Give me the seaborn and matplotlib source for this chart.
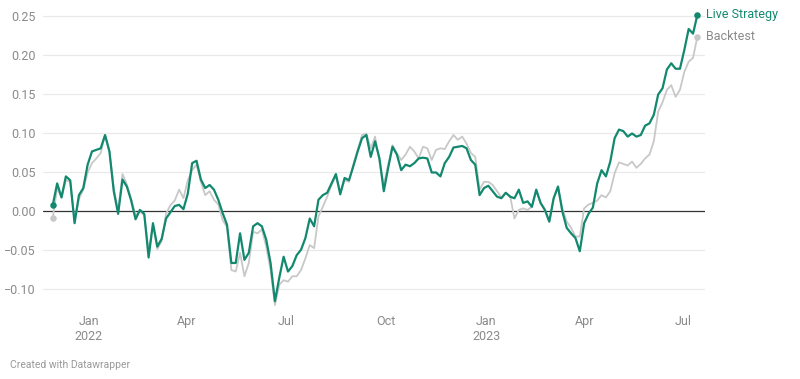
import matplotlib
matplotlib.use("Agg")
import matplotlib.pyplot as plt
import pandas as pd
import seaborn as sns

# data, sampled every 4 days from 2021-11-29
start_date = "2021-11-29"
step = "4D"
live = [0.0085, 0.036, 0.018, 0.045, 0.04, -0.015, 0.021, 0.03, 0.06, 0.077,
        0.079, 0.081, 0.098, 0.077, 0.026, -0.003, 0.041, 0.032, 0.014, -0.01,
        0.002, -0.003, -0.059, -0.015, -0.045, -0.035, -0.009, -0.001, 0.007, 0.0085,
        0.003, 0.023, 0.062, 0.065, 0.041, 0.03, 0.034, 0.028, 0.015, -0.002,
        -0.017, -0.066, -0.066, -0.028, -0.062, -0.053, -0.019, -0.015, -0.019, -0.036,
        -0.066, -0.115, -0.085, -0.058, -0.077, -0.07, -0.056, -0.049, -0.034, -0.009,
        -0.019, 0.015, 0.021, 0.024, 0.036, 0.048, 0.022, 0.043, 0.04, 0.058,
        0.077, 0.094, 0.098, 0.07, 0.09, 0.068, 0.026, 0.056, 0.083, 0.073,
        0.053, 0.06, 0.058, 0.062, 0.068, 0.069, 0.068, 0.05, 0.05, 0.045,
        0.062, 0.07, 0.082, 0.083, 0.084, 0.081, 0.066, 0.06, 0.021, 0.03,
        0.033, 0.026, 0.019, 0.017, 0.024, 0.019, 0.017, 0.028, 0.011, 0.013,
        0.006, 0.028, 0.011, 0.002, -0.013, 0.017, 0.032, 0.0, -0.021, -0.028,
        -0.034, -0.051, -0.015, -0.003, 0.005, 0.036, 0.053, 0.045, 0.064, 0.094,
        0.105, 0.103, 0.096, 0.1, 0.096, 0.098, 0.11, 0.113, 0.124, 0.15,
        0.158, 0.182, 0.19, 0.183, 0.183, 0.207, 0.234, 0.228, 0.252]
backtest = [-0.008, 0.03, 0.018, 0.04, 0.038, -0.012, 0.016, 0.028, 0.05, 0.062,
            0.068, 0.075, 0.098, 0.077, 0.03, 0.0, 0.048, 0.035, 0.016, -0.005,
            0.0, -0.005, -0.05, -0.018, -0.048, -0.038, -0.003, 0.008, 0.014, 0.028,
            0.017, 0.04, 0.053, 0.06, 0.038, 0.021, 0.026, 0.015, 0.009, -0.011,
            -0.02, -0.075, -0.077, -0.053, -0.083, -0.066, -0.026, -0.028, -0.023, -0.045,
            -0.075, -0.12, -0.094, -0.088, -0.09, -0.083, -0.083, -0.075, -0.06, -0.043,
            -0.047, -0.006, 0.006, 0.019, 0.034, 0.045, 0.025, 0.04, 0.038, 0.06,
            0.079, 0.098, 0.1, 0.081, 0.096, 0.064, 0.034, 0.06, 0.085, 0.075,
            0.066, 0.073, 0.083, 0.077, 0.068, 0.083, 0.081, 0.066, 0.079, 0.081,
            0.08, 0.09, 0.098, 0.092, 0.096, 0.087, 0.075, 0.07, 0.028, 0.038,
            0.038, 0.034, 0.026, 0.018, 0.024, 0.02, -0.009, 0.002, 0.004, 0.002,
            0.006, 0.026, 0.011, 0.001, -0.013, 0.017, 0.031, 0.004, -0.013, -0.021,
            -0.032, -0.032, 0.004, 0.009, 0.011, 0.014, 0.021, 0.018, 0.026, 0.049,
            0.063, 0.061, 0.059, 0.064, 0.056, 0.061, 0.068, 0.073, 0.09, 0.128,
            0.14, 0.156, 0.162, 0.147, 0.156, 0.179, 0.192, 0.197, 0.224]
series_names = ["Live Strategy", "Backtest"]
yticks = [-0.10, -0.05, 0.00, 0.05, 0.10, 0.15, 0.20, 0.25]
xtick_dates = ["2022-01-01", "2022-04-01", "2022-07-01", "2022-10-01",
               "2023-01-01", "2023-04-01", "2023-07-01"]
xtick_labels = ["Jan\n2022", "Apr", "Jul", "Oct", "Jan\n2023", "Apr", "Jul"]

palette = {"Live Strategy": "#12896f", "Backtest": "#c8c8c8"}
label_colors = {"Live Strategy": "#12896f", "Backtest": "#8a8a8a"}
widths = {"Live Strategy": 1.6, "Backtest": 1.3}

dates = pd.date_range(start_date, periods=len(live), freq=step)
df = pd.concat([
    pd.DataFrame({"date": dates, "value": live, "series": series_names[0]}),
    pd.DataFrame({"date": dates, "value": backtest, "series": series_names[1]}),
])

sns.set_style("white")
plt.rcParams["font.family"] = ["Roboto", "DejaVu Sans"]

fig = plt.figure(figsize=(8, 3.79), dpi=100)
ax = fig.add_axes([0.05375, 0.1847, 0.8275, 0.7821])

# gridlines + zero line
for t in yticks:
    if t == 0:
        ax.axhline(t, color="#333333", lw=0.9, zorder=1)
    else:
        ax.axhline(t, color="#e9e9e9", lw=0.9, zorder=0)

for name in ["Backtest", "Live Strategy"]:
    sub = df[df["series"] == name]
    sns.lineplot(data=sub, x="date", y="value", color=palette[name],
                 lw=widths[name], ax=ax, solid_joinstyle="round",
                 zorder=3 if name == "Live Strategy" else 2)
    ends = sub.iloc[[0, -1]]
    ax.scatter(ends["date"], ends["value"], s=22, color=palette[name],
               zorder=4, clip_on=False, linewidths=0)
    ax.annotate(name, xy=(sub["date"].iloc[-1], sub["value"].iloc[-1]),
                xytext=(6, 0), textcoords="offset points", va="center", ha="left",
                color=label_colors[name], fontsize=9, annotation_clip=False)

ax.set_xlim(pd.Timestamp("2021-11-20"), pd.Timestamp("2023-07-21"))
ax.set_ylim(-0.125, 0.255)
ax.set_yticks(yticks)
ax.set_yticklabels([f"{t:.2f}".replace("-", "\u2212") for t in yticks])
ax.set_xticks(pd.to_datetime(xtick_dates))
ax.set_xticklabels(xtick_labels)
ax.tick_params(axis="both", length=0, labelsize=9, labelcolor="#8a8a8a")
ax.tick_params(axis="y", pad=5)
ax.tick_params(axis="x", pad=4)
ax.set_xlabel("")
ax.set_ylabel("")
sns.despine(ax=ax, left=True, bottom=True)
ax.grid(False)

fig.text(0.0125, 0.03, "Created with Datawrapper", color="#9a9a9a", fontsize=7.5)

fig.savefig("out.png", dpi=100)
